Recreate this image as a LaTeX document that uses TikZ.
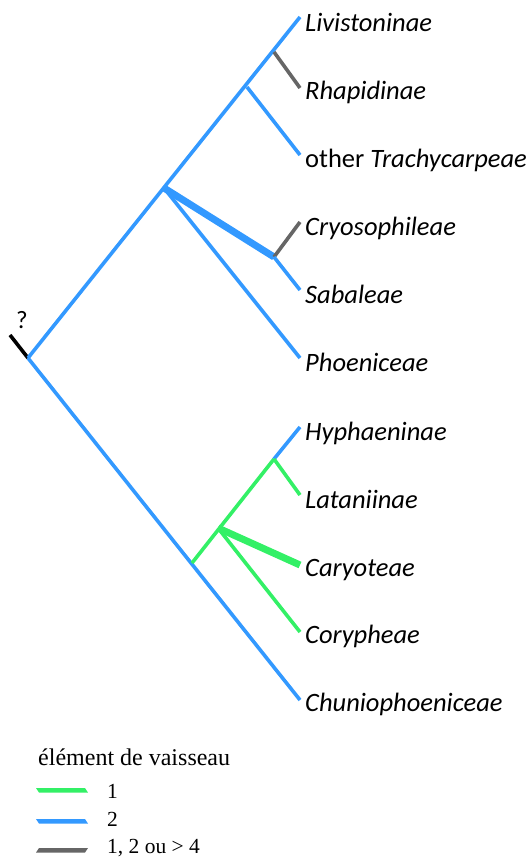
\documentclass[tikz,border=0pt]{standalone}
\usepackage{fontspec}
\setmainfont{Liberation Serif}
\newfontfamily\labfont{Carlito}
\definecolor{vblue}{RGB}{51,153,255}
\definecolor{vgreen}{RGB}{51,240,102}
\definecolor{vgray}{RGB}{102,102,102}
\begin{document}
\begin{tikzpicture}[x=1pt,y=-1pt,
  br/.style={line width=3.6pt},
  brthick/.style={line width=7pt},
  taxon/.style={anchor=base west,inner sep=0pt,font=\labfont\fontsize{26.5}{29}\selectfont},
  legtxt/.style={anchor=base west,inner sep=0pt,font=\fontsize{21.5}{24}\selectfont}]
\useasboundingbox (0,0) rectangle (532,862);
% internal nodes
\coordinate (root) at (28,358);
\coordinate (stub) at (10,335);
\coordinate (n1) at (164,188);
\coordinate (n2) at (247,87);
\coordinate (n3) at (274,52);
\coordinate (n4) at (274,257);
\coordinate (g1) at (192,563);
\coordinate (g2) at (274,459);
\coordinate (g3) at (218,528);
% tips
\coordinate (tLiv) at (300,17);
\coordinate (tRha) at (300,88);
\coordinate (tOth) at (300,155);
\coordinate (tCry) at (300,222);
\coordinate (tSab) at (300,290);
\coordinate (tPho) at (300,358);
\coordinate (tHyp) at (300,427);
\coordinate (tLat) at (300,495);
\coordinate (tCar) at (300,565);
\coordinate (tCor) at (300,632);
\coordinate (tChu) at (300,700);
% labels
\node[taxon] (lLiv) at (305,31) {\itshape Livistoninae};
\node[taxon] (lRha) at (305,99) {\itshape Rhapidinae};
\node[taxon] (lOth) at (305,167) {other \itshape Trachycarpeae};
\node[taxon] (lCry) at (305,235) {\itshape Cryosophileae};
\node[taxon] (lSab) at (305,303) {\itshape Sabaleae};
\node[taxon] (lPho) at (305,371) {\itshape Phoeniceae};
\node[taxon] (lHyp) at (305,440) {\itshape Hyphaeninae};
\node[taxon] (lLat) at (305,508) {\itshape Lataniinae};
\node[taxon] (lCar) at (305,576) {\itshape Caryoteae};
\node[taxon] (lCor) at (305,643) {\itshape Corypheae};
\node[taxon] (lChu) at (305,711) {\itshape Chuniophoeniceae};
\node[anchor=base west,inner sep=0pt,font=\labfont\fontsize{25}{28}\selectfont] (q) at (16,328) {?};
% branches
\draw[br,black] (root) -- (stub);
\draw[br,vblue] (root) -- (tLiv);
\draw[br,vgray] (n3) -- (tRha);
\draw[br,vblue] (n2) -- (tOth);
\draw[brthick,vblue] (n1) -- (n4);
\draw[br,vgray] (n4) -- (tCry);
\draw[br,vblue] (n4) -- (tSab);
\draw[br,vblue] (n1) -- (tPho);
\draw[br,vblue] (root) -- (tChu);
\draw[br,vgreen] (g1) -- (g2);
\draw[br,vblue] (g2) -- (tHyp);
\draw[br,vgreen] (g2) -- (tLat);
\draw[brthick,vgreen] (g3) -- (tCar);
\draw[br,vgreen] (g3) -- (tCor);
% legend
\node[anchor=base west,inner sep=0pt,font=\fontsize{24}{26}\selectfont] (legtitle) at (38,765) {élément de vaisseau};
\fill[vgreen] (36,788) -- (85,788) -- (88,792.5) -- (39,792.5) -- cycle;
\fill[vblue] (36,819) -- (85,819) -- (88,823.5) -- (39,823.5) -- cycle;
\fill[vgray] (39,848) -- (88,848) -- (85,852.5) -- (36,852.5) -- cycle;
\node[legtxt] (leg1) at (107,798) {1};
\node[legtxt] (leg2) at (107,826) {2};
\node[legtxt] (leg3) at (107,853) {1, 2 ou > 4};
\end{tikzpicture}
\end{document}
